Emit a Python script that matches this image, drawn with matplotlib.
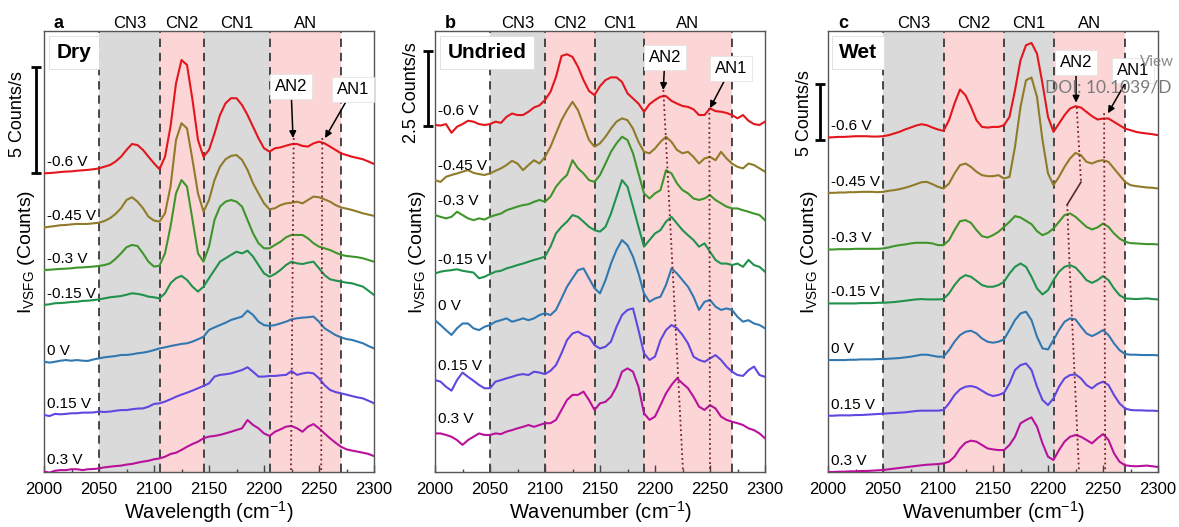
import matplotlib.pyplot as plt
import matplotlib.transforms as mtransforms
import numpy as np

plt.rcParams['font.family'] = ['Liberation Sans', 'DejaVu Sans']
plt.rcParams['mathtext.fontset'] = 'custom'
plt.rcParams['mathtext.rm'] = 'Liberation Sans'
plt.rcParams['mathtext.it'] = 'Liberation Sans:italic'

# sampling grid of the read-off spectra (cm-1)
wavenumber = np.arange(2000, 2301, 5)
voltages = ['-0.6 V', '-0.45 V', '-0.3 V', '-0.15 V', '0 V', '0.15 V', '0.3 V']
line_colors = ['#e3161d', '#8f7b2a', '#3f952b', '#21924d', '#3278b0', '#5f47e0', '#b8129c']
band_names = ['CN3', 'CN2', 'CN1', 'AN']

# ---- panel a : Dry (stacked intensity, counts/s) ----
dry_m060 = [14.09, 14.10, 14.12, 14.15, 14.17, 14.18, 14.21, 14.23, 14.25, 14.28, 14.32, 14.40, 14.48, 14.64, 14.87,
            15.19, 15.47, 15.42, 15.19, 14.87, 14.56, 14.28, 14.87, 16.29, 18.33, 19.43, 19.20, 17.55, 15.66, 14.87,
            15.19, 15.97, 16.84, 17.39, 17.63, 17.63, 17.31, 16.84, 16.29, 15.74, 15.27, 15.11, 15.27, 15.31, 15.39,
            15.46, 15.47, 15.38, 15.35, 15.50, 15.58, 15.50, 15.35, 15.19, 15.03, 14.95, 14.87, 14.81, 14.75, 14.64,
            14.53]
dry_m045 = [11.53, 11.57, 11.60, 11.64, 11.65, 11.68, 11.70, 11.70, 11.70, 11.73, 11.76, 11.84, 11.97, 12.17, 12.44,
            12.83, 12.96, 12.75, 12.44, 12.04, 11.86, 11.81, 12.20, 13.46, 15.66, 16.45, 16.21, 14.72, 13.14, 12.28,
            12.83, 13.77, 14.40, 14.75, 14.91, 14.95, 14.72, 14.25, 13.62, 13.14, 12.67, 12.39, 12.44, 12.59, 12.67,
            12.70, 12.75, 12.67, 12.83, 12.99, 12.96, 12.86, 12.75, 12.59, 12.48, 12.42, 12.36, 12.28, 12.20, 12.14,
            12.08]
dry_m030 = [9.53, 9.54, 9.56, 9.58, 9.59, 9.61, 9.64, 9.65, 9.67, 9.69, 9.72, 9.76, 9.84, 10.05, 10.31,
            10.60, 10.71, 10.66, 10.31, 9.92, 9.69, 9.73, 10.31, 11.57, 13.14, 13.77, 13.46, 11.89, 10.31, 9.92,
            10.63, 11.89, 12.52, 12.75, 12.83, 12.75, 12.52, 11.89, 11.26, 10.79, 10.55, 10.55, 10.71, 10.86, 11.07,
            11.18, 11.18, 11.18, 11.02, 10.79, 10.63, 10.55, 10.47, 10.35, 10.24, 10.19, 10.16, 10.13, 10.08, 10.00,
            9.92]
dry_m015 = [7.88, 7.91, 7.96, 7.97, 7.99, 8.02, 8.03, 8.07, 8.08, 8.11, 8.14, 8.19, 8.24, 8.27, 8.30,
            8.36, 8.43, 8.40, 8.35, 8.27, 8.24, 8.19, 8.43, 8.90, 9.14, 9.25, 9.06, 8.74, 8.51, 8.74,
            9.14, 9.53, 9.92, 10.08, 10.24, 10.39, 10.31, 10.44, 10.16, 9.76, 9.37, 9.21, 9.34, 9.53, 9.76,
            9.92, 9.84, 9.81, 9.87, 9.92, 9.61, 9.29, 9.09, 9.03, 8.98, 8.93, 8.90, 8.82, 8.74, 8.55,
            8.35]
dry_0 = [5.20, 5.16, 5.20, 5.25, 5.28, 5.25, 5.28, 5.25, 5.24, 5.31, 5.36, 5.41, 5.44, 5.47, 5.52,
         5.52, 5.55, 5.60, 5.63, 5.68, 5.75, 5.83, 5.88, 5.94, 5.99, 6.04, 6.07, 6.15, 6.26, 6.38,
         6.70, 6.82, 6.93, 7.04, 7.17, 7.25, 7.33, 7.61, 7.41, 7.09, 6.93, 6.89, 6.93, 7.01, 7.09,
         7.20, 7.25, 7.28, 7.30, 7.33, 7.09, 6.78, 6.62, 6.46, 6.35, 6.27, 6.23, 6.15, 6.07, 5.94,
         5.83]
dry_p015 = [2.69, 2.64, 2.74, 2.72, 2.74, 2.77, 2.77, 2.80, 2.80, 2.81, 2.85, 2.83, 2.85, 2.89, 2.92,
            2.92, 2.96, 2.99, 3.00, 3.08, 3.21, 3.24, 3.32, 3.43, 3.55, 3.65, 3.74, 3.84, 3.95, 4.06,
            4.18, 4.50, 4.58, 4.61, 4.65, 4.73, 4.81, 4.94, 4.73, 4.50, 4.50, 4.53, 4.53, 4.56, 4.58,
            4.76, 4.58, 4.65, 4.69, 4.65, 4.42, 4.10, 3.87, 3.77, 3.71, 3.65, 3.58, 3.52, 3.47, 3.36,
            3.24]
dry_p030 = [0.02, -0.03, 0.06, 0.09, 0.09, 0.13, 0.13, 0.09, 0.13, 0.14, 0.17, 0.22, 0.25, 0.28, 0.30,
            0.35, 0.38, 0.44, 0.49, 0.53, 0.60, 0.64, 0.72, 0.85, 0.91, 1.04, 1.19, 1.32, 1.43, 1.59,
            1.67, 1.70, 1.75, 1.82, 1.90, 1.98, 2.06, 2.45, 2.22, 2.06, 1.82, 1.70, 1.90, 2.01, 2.14,
            2.17, 2.06, 1.90, 2.14, 2.26, 2.06, 1.82, 1.59, 1.38, 1.19, 1.07, 1.01, 0.96, 0.91, 0.85,
            0.75]

# ---- panel b : Undried ----
und_m060 = [11.52, 11.50, 11.55, 11.26, 11.46, 11.55, 11.66, 11.63, 11.55, 11.52, 11.55, 11.63, 11.59, 11.79, 11.90,
            11.85, 11.85, 11.96, 12.10, 12.17, 12.35, 12.62, 13.12, 13.81, 13.87, 13.78, 13.45, 13.01, 12.65, 12.51,
            12.81, 13.01, 13.10, 13.10, 12.95, 12.57, 12.40, 12.23, 11.96, 12.21, 12.35, 12.46, 12.48, 12.32, 12.23,
            12.15, 12.12, 12.04, 11.85, 11.85, 12.07, 11.98, 11.96, 11.92, 11.85, 11.74, 11.85, 11.66, 11.55, 11.52,
            11.63]
und_m045 = [9.69, 9.63, 9.80, 9.86, 9.91, 9.97, 10.02, 9.93, 9.89, 9.86, 9.91, 10.00, 10.08, 10.19, 10.33,
            10.24, 10.02, 10.19, 10.35, 10.24, 10.46, 10.80, 11.24, 11.68, 12.01, 12.29, 12.01, 11.52, 11.02, 10.80,
            10.91, 11.13, 11.40, 11.63, 11.74, 11.68, 11.40, 10.96, 10.63, 10.58, 10.74, 10.96, 11.13, 10.96, 10.69,
            10.58, 10.63, 10.46, 10.24, 10.41, 10.46, 10.35, 10.63, 10.41, 10.24, 10.13, 10.08, 10.24, 10.19, 10.08,
            9.97]
und_m030 = [8.53, 8.47, 8.42, 8.47, 8.64, 8.53, 8.42, 8.36, 8.42, 8.38, 8.47, 8.53, 8.58, 8.69, 8.75,
            8.81, 8.86, 8.89, 8.97, 9.03, 8.97, 9.14, 9.47, 9.69, 9.86, 10.35, 10.08, 9.91, 9.69, 9.63,
            9.86, 10.24, 10.63, 10.91, 11.13, 11.02, 10.58, 9.91, 9.25, 9.08, 9.25, 9.36, 10.02, 9.91, 9.58,
            9.36, 9.25, 9.08, 9.03, 9.08, 9.19, 9.03, 8.92, 8.81, 8.75, 8.75, 8.69, 8.64, 8.58, 8.53,
            8.36]
und_m015 = [6.59, 6.65, 6.68, 6.70, 6.73, 6.68, 6.65, 6.62, 6.43, 6.48, 6.57, 6.65, 6.68, 6.76, 6.81,
            6.87, 6.92, 6.98, 7.04, 7.09, 7.15, 7.48, 7.92, 8.14, 8.31, 8.53, 8.47, 8.31, 8.14, 8.03,
            7.98, 8.14, 8.58, 9.14, 9.69, 9.47, 8.81, 8.14, 7.48, 7.70, 7.92, 8.03, 8.31, 8.47, 8.25,
            8.03, 7.86, 7.70, 7.48, 7.59, 7.31, 7.04, 6.92, 6.92, 6.87, 6.92, 6.81, 7.04, 6.87, 6.81,
            6.65]
und_0 = [5.04, 4.88, 4.71, 4.55, 4.77, 4.93, 4.93, 4.77, 4.71, 4.82, 4.88, 4.99, 5.04, 5.10, 4.99,
         5.04, 5.10, 5.04, 5.10, 5.21, 5.27, 5.21, 5.38, 5.76, 6.15, 6.43, 6.70, 6.76, 6.43, 6.10,
         5.93, 6.37, 6.92, 7.37, 7.70, 7.53, 7.15, 6.59, 5.93, 5.65, 5.76, 5.82, 6.21, 6.76, 6.59,
         6.37, 6.15, 5.82, 5.38, 5.65, 5.71, 5.49, 5.38, 5.43, 5.38, 5.15, 4.99, 5.04, 4.93, 4.88,
         4.77]
und_p015 = [3.05, 3.00, 2.83, 2.70, 3.05, 3.30, 3.16, 3.03, 2.89, 2.78, 2.78, 3.00, 3.05, 3.11, 3.16,
            3.22, 3.25, 3.22, 3.33, 3.30, 3.25, 3.36, 3.55, 3.94, 4.38, 4.60, 4.66, 4.55, 4.49, 4.21,
            4.10, 4.16, 4.33, 4.82, 5.21, 5.38, 5.43, 4.71, 3.94, 3.72, 3.83, 4.38, 4.71, 4.88, 4.77,
            4.55, 4.27, 3.83, 3.72, 3.66, 3.77, 3.88, 3.72, 3.50, 3.33, 3.22, 3.19, 3.38, 3.50, 3.22,
            3.16]
und_p030 = [1.28, 1.28, 1.23, 1.17, 1.06, 0.90, 1.06, 1.17, 1.28, 1.23, 1.23, 1.28, 1.26, 1.34, 1.39,
            1.45, 1.50, 1.56, 1.50, 1.56, 1.62, 1.62, 1.73, 2.06, 2.39, 2.56, 2.56, 2.67, 2.39, 2.06,
            2.28, 2.33, 2.50, 2.83, 3.33, 3.44, 3.33, 2.83, 1.95, 1.73, 1.84, 2.22, 2.61, 2.89, 3.11,
            2.94, 2.78, 2.50, 2.17, 2.06, 2.22, 2.11, 1.84, 1.73, 1.67, 1.62, 1.56, 1.45, 1.39, 1.28,
            1.12]

# ---- panel c : Wet ----
wet_m060 = [29.88, 29.91, 29.94, 29.94, 29.97, 30.00, 30.00, 30.00, 29.97, 29.97, 30.00, 30.09, 30.24, 30.39, 30.60,
            30.77, 30.95, 31.07, 30.98, 30.77, 30.60, 30.48, 31.43, 32.92, 34.17, 33.66, 32.62, 31.43, 30.83, 30.77,
            30.83, 30.83, 30.98, 31.73, 34.11, 36.79, 38.13, 38.33, 37.38, 34.70, 31.73, 30.39, 31.13, 31.88, 32.47,
            32.68, 32.56, 32.17, 31.79, 31.49, 31.58, 31.58, 31.28, 30.98, 30.68, 30.54, 30.39, 30.30, 30.24, 30.18,
            30.09]
wet_m045 = [24.94, 24.94, 24.97, 24.97, 25.00, 25.00, 25.03, 25.03, 25.03, 25.00, 25.03, 25.12, 25.18, 25.27, 25.39,
            25.54, 25.71, 25.89, 25.92, 25.71, 25.48, 25.33, 25.77, 26.67, 27.41, 27.56, 27.26, 26.82, 26.52, 26.43,
            26.43, 26.52, 26.22, 26.37, 29.05, 32.62, 35.00, 35.24, 33.51, 29.64, 26.67, 25.63, 26.37, 27.26, 28.01,
            28.51, 28.30, 27.71, 27.56, 27.77, 27.86, 27.71, 27.11, 26.52, 25.92, 25.63, 25.54, 25.48, 25.42, 25.39,
            25.33]
wet_m030 = [19.88, 19.88, 19.91, 19.91, 19.91, 19.94, 19.94, 19.94, 19.94, 19.94, 19.97, 20.06, 20.18, 20.27, 20.33,
            20.42, 20.48, 20.48, 20.48, 20.42, 20.27, 20.27, 20.71, 21.61, 22.41, 22.50, 22.26, 21.61, 21.07, 20.95,
            21.16, 21.46, 21.90, 22.35, 22.86, 22.74, 22.44, 22.14, 21.52, 21.16, 21.37, 21.76, 22.35, 22.95, 23.10,
            22.80, 22.35, 21.90, 21.67, 21.85, 22.20, 21.90, 21.31, 20.86, 20.57, 20.45, 20.42, 20.39, 20.36, 20.36,
            20.33]
wet_m015 = [15.06, 15.06, 15.06, 15.06, 15.06, 15.06, 15.09, 15.09, 15.09, 15.12, 15.12, 15.15, 15.18, 15.24, 15.30,
            15.36, 15.42, 15.45, 15.42, 15.42, 15.42, 15.45, 15.95, 16.70, 17.29, 17.59, 17.44, 17.08, 16.70, 16.55,
            16.55, 16.70, 16.99, 17.74, 18.33, 18.63, 18.33, 17.44, 16.40, 15.86, 16.25, 17.14, 17.89, 18.33, 18.48,
            18.27, 17.74, 17.14, 16.90, 17.14, 17.50, 17.14, 16.40, 15.80, 15.51, 15.48, 15.45, 15.48, 15.51, 15.45,
            15.42]
wet_0 = [10.00, 10.00, 10.00, 10.00, 10.03, 10.03, 10.06, 10.06, 10.06, 10.09, 10.09, 10.12, 10.15, 10.18, 10.24,
         10.30, 10.39, 10.48, 10.48, 10.39, 10.30, 10.30, 10.89, 11.64, 12.23, 12.53, 12.62, 12.38, 11.93, 11.64,
         11.55, 11.64, 11.85, 12.68, 13.57, 14.17, 14.32, 13.57, 12.08, 11.04, 10.95, 11.79, 12.68, 13.42, 13.72,
         13.63, 12.98, 12.38, 12.14, 12.38, 12.68, 12.23, 11.49, 10.89, 10.54, 10.48, 10.48, 10.45, 10.45, 10.45,
         10.42]
wet_p015 = [5.03, 5.03, 5.06, 5.06, 5.06, 5.09, 5.09, 5.12, 5.15, 5.18, 5.21, 5.24, 5.27, 5.30, 5.33,
            5.39, 5.45, 5.48, 5.48, 5.48, 5.48, 5.54, 6.13, 6.88, 7.38, 7.62, 7.68, 7.56, 7.26, 6.96,
            6.79, 6.88, 7.08, 7.92, 9.11, 9.55, 9.70, 9.11, 7.62, 6.43, 5.98, 6.58, 7.62, 8.36, 8.66,
            8.72, 8.36, 7.77, 7.47, 7.86, 8.07, 7.77, 6.88, 6.13, 5.68, 5.54, 5.51, 5.51, 5.48, 5.48,
            5.45]
wet_p030 = [0.00, 0.00, 0.03, 0.03, 0.06, 0.06, 0.09, 0.09, 0.12, 0.15, 0.18, 0.24, 0.30, 0.36, 0.42,
            0.48, 0.54, 0.60, 0.65, 0.68, 0.71, 0.77, 0.92, 1.37, 2.11, 2.62, 2.80, 2.71, 2.41, 2.11,
            2.02, 1.96, 1.96, 2.41, 3.15, 4.35, 4.64, 4.88, 4.05, 2.56, 1.37, 1.07, 1.96, 2.71, 3.15,
            3.30, 3.15, 2.86, 2.56, 3.01, 3.39, 2.86, 1.67, 0.92, 0.60, 0.54, 0.51, 0.54, 0.57, 0.51,
            0.45]

# band edges (cm-1) of the shaded CN3 / CN2 / CN1 / AN regions
bands_dry = [2050, 2105, 2145, 2205, 2270]
bands_undried = [2050, 2100, 2145, 2190, 2270]
bands_wet = [2050, 2105, 2160, 2205, 2270]

# AN peak guide lines (dotted)
dry_an2_x, dry_an2_y = [2227, 2224.5], [15.75, 0]
dry_an1_x, dry_an1_y = [2253, 2252], [15.75, 0]
und_an2_x, und_an2_y = [2207.6, 2225.5], [12.68, 0]
und_an1_x, und_an1_y = [2249.4, 2250], [12.08, 0]
wet_an2_x, wet_an2_y = [2226.1, 2230, 2217.5, 2219.4, 2228.2], [32.6, 25.9, 23.9, 18.9, 0]
wet_an1_x, wet_an1_y = [2251, 2252], [32.05, 0]

GRAY = '#dadada'
PINK = '#fcd6d6'
GUIDE = '#7a1f2b'

fig = plt.figure(figsize=(11.79, 5.27), dpi=100)
lefts = [44 / 1179, 435 / 1179, 828 / 1179]
axes = [fig.add_axes([l, 55 / 527, 330 / 1179, 441 / 527]) for l in lefts]


def draw_panel(ax, spectra, bands, ymax, letter, title, title_x, xlabel, label_gap):
    ax.set_xlim(2000, 2300)
    ax.set_ylim(0, ymax)
    shade = [GRAY, PINK, GRAY, PINK]
    for i in range(4):
        ax.axvspan(bands[i], bands[i + 1], color=shade[i], lw=0, zorder=0)
    for b in bands:
        ax.axvline(b, color='#2b2b2b', ls=(0, (5, 3.5)), lw=1.2, zorder=1)
    trans = mtransforms.blended_transform_factory(ax.transData, ax.transAxes)
    for i in range(4):
        ax.text((bands[i] + bands[i + 1]) / 2, 1.006, band_names[i], transform=trans,
                ha='center', va='baseline', fontsize=12)
    for y, c, v in zip(spectra, line_colors, voltages):
        ax.plot(wavenumber, y, color=c, lw=1.5, zorder=3)
        ax.annotate(v, xy=(wavenumber[0], y[0]), xytext=(2, label_gap), textcoords='offset points',
                    ha='left', va='bottom', fontsize=11, zorder=6)
    ax.text(0.03, 1.006, letter, transform=ax.transAxes, fontsize=13, fontweight='bold', va='baseline')
    ax.text(title_x, 0.951, title, transform=ax.transAxes, ha='center', va='center', fontsize=15,
            fontweight='bold', zorder=6,
            bbox=dict(boxstyle='square,pad=0.35', fc='white', ec='#dddddd', lw=0.6))
    ax.set_yticks([])
    ax.set_xticks([2000, 2050, 2100, 2150, 2200, 2250, 2300])
    ax.set_xticks(np.arange(2025, 2300, 50), minor=True)
    ax.tick_params(axis='x', which='major', direction='in', length=5, width=1, labelsize=12, pad=7,
                   color='#444444')
    ax.tick_params(axis='x', which='minor', direction='in', length=2.5, width=1, color='#444444')
    for s in ax.spines.values():
        s.set_color('#555555')
        s.set_linewidth(1.0)
    ax.set_xlabel(xlabel, fontsize=14.5, labelpad=2)
    ax.set_ylabel('I$_{\\mathrm{VSFG}}$ (Counts)', fontsize=14)


def scale_bar(ax, x, y0, length, text, text_x, text_y):
    trans = mtransforms.blended_transform_factory(ax.transAxes, ax.transData)
    kw = dict(color='black', lw=2, transform=trans, clip_on=False, solid_capstyle='butt')
    ax.plot([x, x], [y0, y0 + length], **kw)
    ax.plot([x - 0.015, x + 0.015], [y0, y0], **kw)
    ax.plot([x - 0.015, x + 0.015], [y0 + length, y0 + length], **kw)
    ax.text(text_x, text_y, text, transform=trans, rotation=90, ha='center', va='center', fontsize=13)


def an_label(ax, name, tip, pos):
    ax.annotate(name, xy=tip, xytext=pos, ha='center', va='center', fontsize=12, zorder=7,
                bbox=dict(boxstyle='square,pad=0.3', fc='white', ec='#e4e4e4', lw=0.6),
                arrowprops=dict(arrowstyle='-|>', color='black', lw=1.1, mutation_scale=10,
                                shrinkA=0, shrinkB=0))


ax_a, ax_b, ax_c = axes

draw_panel(ax_a, [dry_m060, dry_m045, dry_m030, dry_m015, dry_0, dry_p015, dry_p030],
           bands_dry, 20.8, 'a', 'Dry', 0.091, 'Wavelength (cm$^{-1}$)', 3)
ax_a.plot(dry_an2_x, dry_an2_y, color=GUIDE, ls=':', lw=1.3, zorder=4)
ax_a.plot(dry_an1_x, dry_an1_y, color=GUIDE, ls=':', lw=1.3, zorder=4)
an_label(ax_a, 'AN2', (2226.4, 15.75), (2224.5, 18.2))
an_label(ax_a, 'AN1', (2255.5, 15.75), (2281, 18.05))
scale_bar(ax_a, -0.024, 14.1, 5, '5 Counts/s', -0.079, 16.9)
ax_a.yaxis.set_label_coords(-0.021, 0.5)

draw_panel(ax_b, [und_m060, und_m045, und_m030, und_m015, und_0, und_p015, und_p030],
           bands_undried, 14.64, 'b', 'Undried', 0.158, 'Wavenumber (cm$^{-1}$)', 5)
ax_b.plot(und_an2_x, und_an2_y, color=GUIDE, ls=':', lw=1.3, zorder=4)
ax_b.plot(und_an1_x, und_an1_y, color=GUIDE, ls=':', lw=1.3, zorder=4)
an_label(ax_b, 'AN2', (2207.5, 12.68), (2209, 13.75))
an_label(ax_b, 'AN1', (2250, 12.08), (2269, 13.4))
scale_bar(ax_b, -0.020, 11.49, 2.5, '2.5 Counts/s', -0.071, 12.6)
ax_b.yaxis.set_label_coords(-0.021, 0.5)

draw_panel(ax_c, [wet_m060, wet_m045, wet_m030, wet_m015, wet_0, wet_p015, wet_p030],
           bands_wet, 39.4, 'c', 'Wet', 0.091, 'Wavenumber (cm$^{-1}$)', 3)
ax_c.plot(wet_an2_x[:2], wet_an2_y[:2], color=GUIDE, ls=':', lw=1.3, zorder=4)
ax_c.plot(wet_an2_x[1:3], wet_an2_y[1:3], color='#5a2a2a', ls='-', lw=1.2, zorder=4)
ax_c.plot(wet_an2_x[2:], wet_an2_y[2:], color=GUIDE, ls=':', lw=1.3, zorder=4)
ax_c.plot(wet_an1_x, wet_an1_y, color=GUIDE, ls=':', lw=1.3, zorder=4)
an_label(ax_c, 'AN2', (2225.5, 33.0), (2225.5, 36.6))
an_label(ax_c, 'AN1', (2254.5, 32.05), (2277, 35.9))
scale_bar(ax_c, -0.024, 29.64, 5, '5 Counts/s', -0.07, 32.1)
ax_c.yaxis.set_label_coords(-0.024, 0.5)

# viewer overlay visible in the source image
fig.text(0.967, 0.875, 'View', fontsize=11, color='#8a8a8a', family=['Lato', 'DejaVu Sans'])
fig.text(0.886, 0.824, 'DOI: 10.1039/D', fontsize=12.5, color='#7a7a7a', family=['Lato', 'DejaVu Sans'])

plt.savefig('out.png', dpi=100)
